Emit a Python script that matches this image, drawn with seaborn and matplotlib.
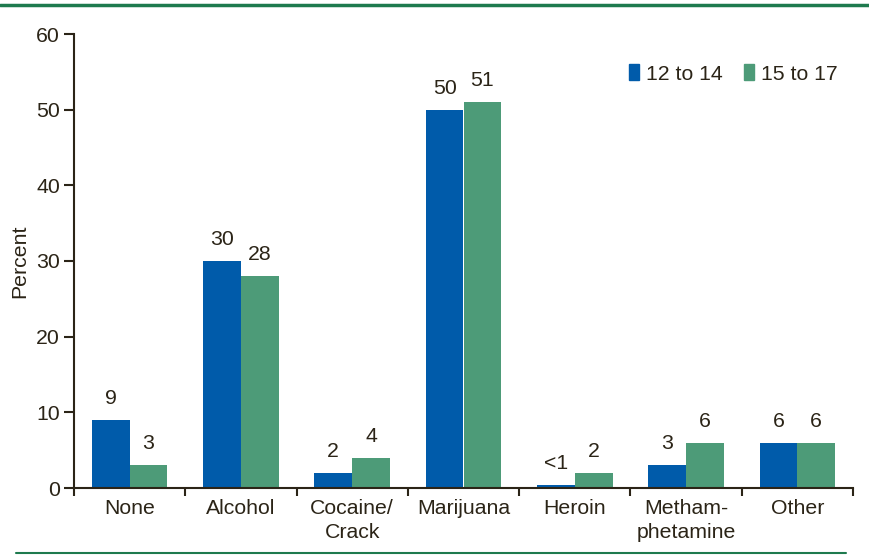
import matplotlib
matplotlib.use("Agg")
import matplotlib.pyplot as plt
from matplotlib.lines import Line2D
import seaborn as sns
import pandas as pd
import numpy as np

categories = ["None", "Alcohol", "Cocaine/\nCrack", "Marijuana", "Heroin", "Metham-\nphetamine", "Other"]
age_12_14 = [9, 30, 2, 50, 0.4, 3, 6]
age_15_17 = [3, 28, 4, 51, 2, 6, 6]
labels_12_14 = ["9", "30", "2", "50", "<1", "3", "6"]
labels_15_17 = ["3", "28", "4", "51", "2", "6", "6"]
groups = ["12 to 14", "15 to 17"]
yticks = [0, 10, 20, 30, 40, 50, 60]

blue = "#005BAA"
green = "#4D9B78"
txt = "#2B2417"
FS = 15.3

sns.set_style("white")
plt.rcParams['font.family'] = ['Liberation Sans', 'DejaVu Sans']

df = pd.DataFrame({
    "cat": categories * 2,
    "val": age_12_14 + age_15_17,
    "grp": [groups[0]] * len(categories) + [groups[1]] * len(categories),
})

fig = plt.figure(figsize=(8.69, 5.57), dpi=100)
ax = fig.add_axes([74/869, 1-488/557, (853-74)/869, (488-34)/557])
sns.barplot(data=df, x="cat", y="val", hue="grp", palette=[blue, green],
            width=0.68, saturation=1, ax=ax, errorbar=None, legend=False,
            linewidth=0, edgecolor="none")

for container, labs in zip(ax.containers, [labels_12_14, labels_15_17]):
    ax.bar_label(container, labels=labs, padding=8.5, fontsize=FS, color=txt)

ax.set_ylim(0, 60)
ax.set_xlim(-0.5, len(categories) - 0.5)
ax.set_yticks(yticks)
ax.set_yticklabels([str(v) for v in yticks], fontsize=FS, color=txt)
ax.set_xticks(np.arange(-0.5, len(categories), 1.0))
ax.set_xticklabels([])
ax.set_xticks(np.arange(len(categories)), minor=True)
ax.set_xticklabels(categories, minor=True, fontsize=FS, color=txt, linespacing=1.35, va="top")
ax.tick_params(axis="x", which="minor", length=0, pad=8)
ax.tick_params(axis="x", which="major", direction="out", length=6, width=1.5, color=txt, bottom=True)
ax.tick_params(axis="y", direction="out", length=7, width=1.5, color=txt, left=True, pad=3)
ax.set_xlabel("")
ax.set_ylabel("Percent", fontsize=15.3, color=txt, labelpad=5)
sns.despine(ax=ax)
for s in ["left", "bottom"]:
    ax.spines[s].set_color(txt)
    ax.spines[s].set_linewidth(1.5)

handles = [plt.Rectangle((0, 0), 1, 1, color=blue), plt.Rectangle((0, 0), 1, 1, color=green)]
ax.legend(handles, groups, loc="upper right", bbox_to_anchor=(1.005, 0.975), ncol=2, frameon=False,
          fontsize=FS, handlelength=0.45, handleheight=0.75, handletextpad=0.35,
          columnspacing=1.0, labelcolor=txt)

fig.add_artist(Line2D([0, 1], [1-4.5/557, 1-4.5/557], color="#1E7A4E", lw=2.5))
fig.add_artist(Line2D([16/869, 846/869], [1-553/557, 1-553/557], color="#1E7A4E", lw=1.5))

fig.savefig("out.png", dpi=100)
